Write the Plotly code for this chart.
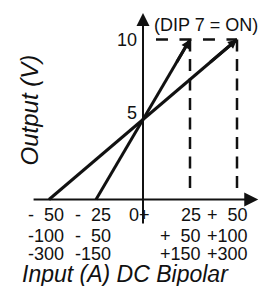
import plotly.graph_objects as go

# ---- data ----
input_a_low = [-50, -25]      # input (A) at 0 V output, per range
input_a_high = [50, 25]       # input (A) at 10 V output
output_low = [0, 0]
output_high = [10, 10]
x_ticks = [-50, -25, 0, 25, 50]
tick_row1 = ["-  50", "-  25", "0+", "25", "+  50"]
tick_row2 = ["-100", "-  50", "", "+  50", "+100"]
tick_row3 = ["-300", "-150", "", "+150", "+300"]
y_ticks = [10, 5]
y_tick_labels = ["10", "5"]
dip_label = "(DIP 7 = ON)"
x_title = "Input (A) DC Bipolar"
y_title = "Output (V)"

# ---- styles / layout ----
W, H = 268, 286
X0PX, SX = 143.0, 1.88
Y0PX, SY = 199.5, 16.0
FONT = "Arial, 'Liberation Sans', sans-serif"
BLACK = "#111111"
col_shift = [16.5, 17, 9, 13, 12.5]
row_shift = [-15, -36.5, -54.5]

x_range = [-X0PX / SX, (W - X0PX) / SX]
y_range = [(Y0PX - H) / SY, Y0PX / SY]

fig = go.Figure()

# main transfer lines
for xl, xh, yl, yh in zip(input_a_low, input_a_high, output_low, output_high):
    fig.add_trace(go.Scatter(x=[xl, xh], y=[yl, yh], mode="lines",
                             line=dict(color=BLACK, width=3), hoverinfo="skip",
                             showlegend=False))

ann = []
# arrowheads on main lines
for xl, xh, yl, yh in zip(input_a_low, input_a_high, output_low, output_high):
    ann.append(dict(x=xh, y=yh, ax=xh - (xh - xl) * 0.15, ay=yh - (yh - yl) * 0.15,
                    xref="x", yref="y", axref="x", ayref="y", text="",
                    showarrow=True, arrowhead=2, arrowwidth=3, arrowsize=0.6,
                    arrowcolor=BLACK, standoff=0, startstandoff=0))

# axes with arrows
ann.append(dict(x=61.3, y=0, ax=-59.0, ay=0, xref="x", yref="y", axref="x", ayref="y",
                text="", showarrow=True, arrowhead=2, arrowwidth=2, arrowsize=1.4,
                arrowcolor=BLACK, standoff=0))
ann.append(dict(x=0, y=11.66, ax=0, ay=-1.6, xref="x", yref="y", axref="x", ayref="y",
                text="", showarrow=True, arrowhead=2, arrowwidth=2, arrowsize=1.3,
                arrowcolor=BLACK, standoff=0))

# dashed guide lines
shapes = []
shapes.append(dict(type="line", x0=6.9, x1=max(input_a_high), y0=max(output_high), y1=max(output_high),
                   xref="x", yref="y", line=dict(color=BLACK, width=2.5, dash="12px,11.5px")))
for xv in input_a_high:
    shapes.append(dict(type="line", x0=xv, x1=xv, y0=max(output_high), y1=0.72,
                       xref="x", yref="y", line=dict(color=BLACK, width=2.5, dash="12px,7.5px")))

# x tick labels
for rows, ys in zip([tick_row1, tick_row2, tick_row3], row_shift):
    for xv, t, cs in zip(x_ticks, rows, col_shift):
        if t:
            ann.append(dict(x=xv, y=0, xref="x", yref="y", text=t, showarrow=False,
                            xanchor="right", yanchor="middle", xshift=cs, yshift=ys,
                            font=dict(family=FONT, size=18, color=BLACK)))

# y tick labels
for yv, t, ysh in zip(y_ticks, y_tick_labels, [0, 7]):
    ann.append(dict(x=0, y=yv, xref="x", yref="y", text=t, showarrow=False,
                    xanchor="right", yanchor="middle", xshift=-4, yshift=ysh,
                    font=dict(family=FONT, size=18, color=BLACK)))

ann.append(dict(x=0, y=max(output_high), xref="x", yref="y", text=dip_label, showarrow=False,
                xanchor="left", yanchor="middle", xshift=9, yshift=15,
                font=dict(family=FONT, size=18, color=BLACK)))

ann.append(dict(x=125 / W, y=1 - 273.5 / H, xref="paper", yref="paper", text="<i>" + x_title + "</i>",
                showarrow=False, xanchor="center", yanchor="middle",
                font=dict(family=FONT, size=23, color=BLACK)))
ann.append(dict(x=29.5 / W, y=1 - 110 / H, xref="paper", yref="paper", text="<i>" + y_title + "</i>",
                showarrow=False, xanchor="center", yanchor="middle", textangle=-90,
                font=dict(family=FONT, size=24, color=BLACK)))

fig.update_layout(
    width=W, height=H, autosize=False,
    margin=dict(l=0, r=0, t=0, b=0, pad=0),
    paper_bgcolor="white", plot_bgcolor="white",
    xaxis=dict(range=x_range, visible=False, fixedrange=True),
    yaxis=dict(range=y_range, visible=False, fixedrange=True),
    annotations=ann, shapes=shapes, showlegend=False,
)

fig.write_html("out.html", config={"displayModeBar": False},
               post_script="document.body.style.margin='0';document.body.style.overflow='hidden';")
